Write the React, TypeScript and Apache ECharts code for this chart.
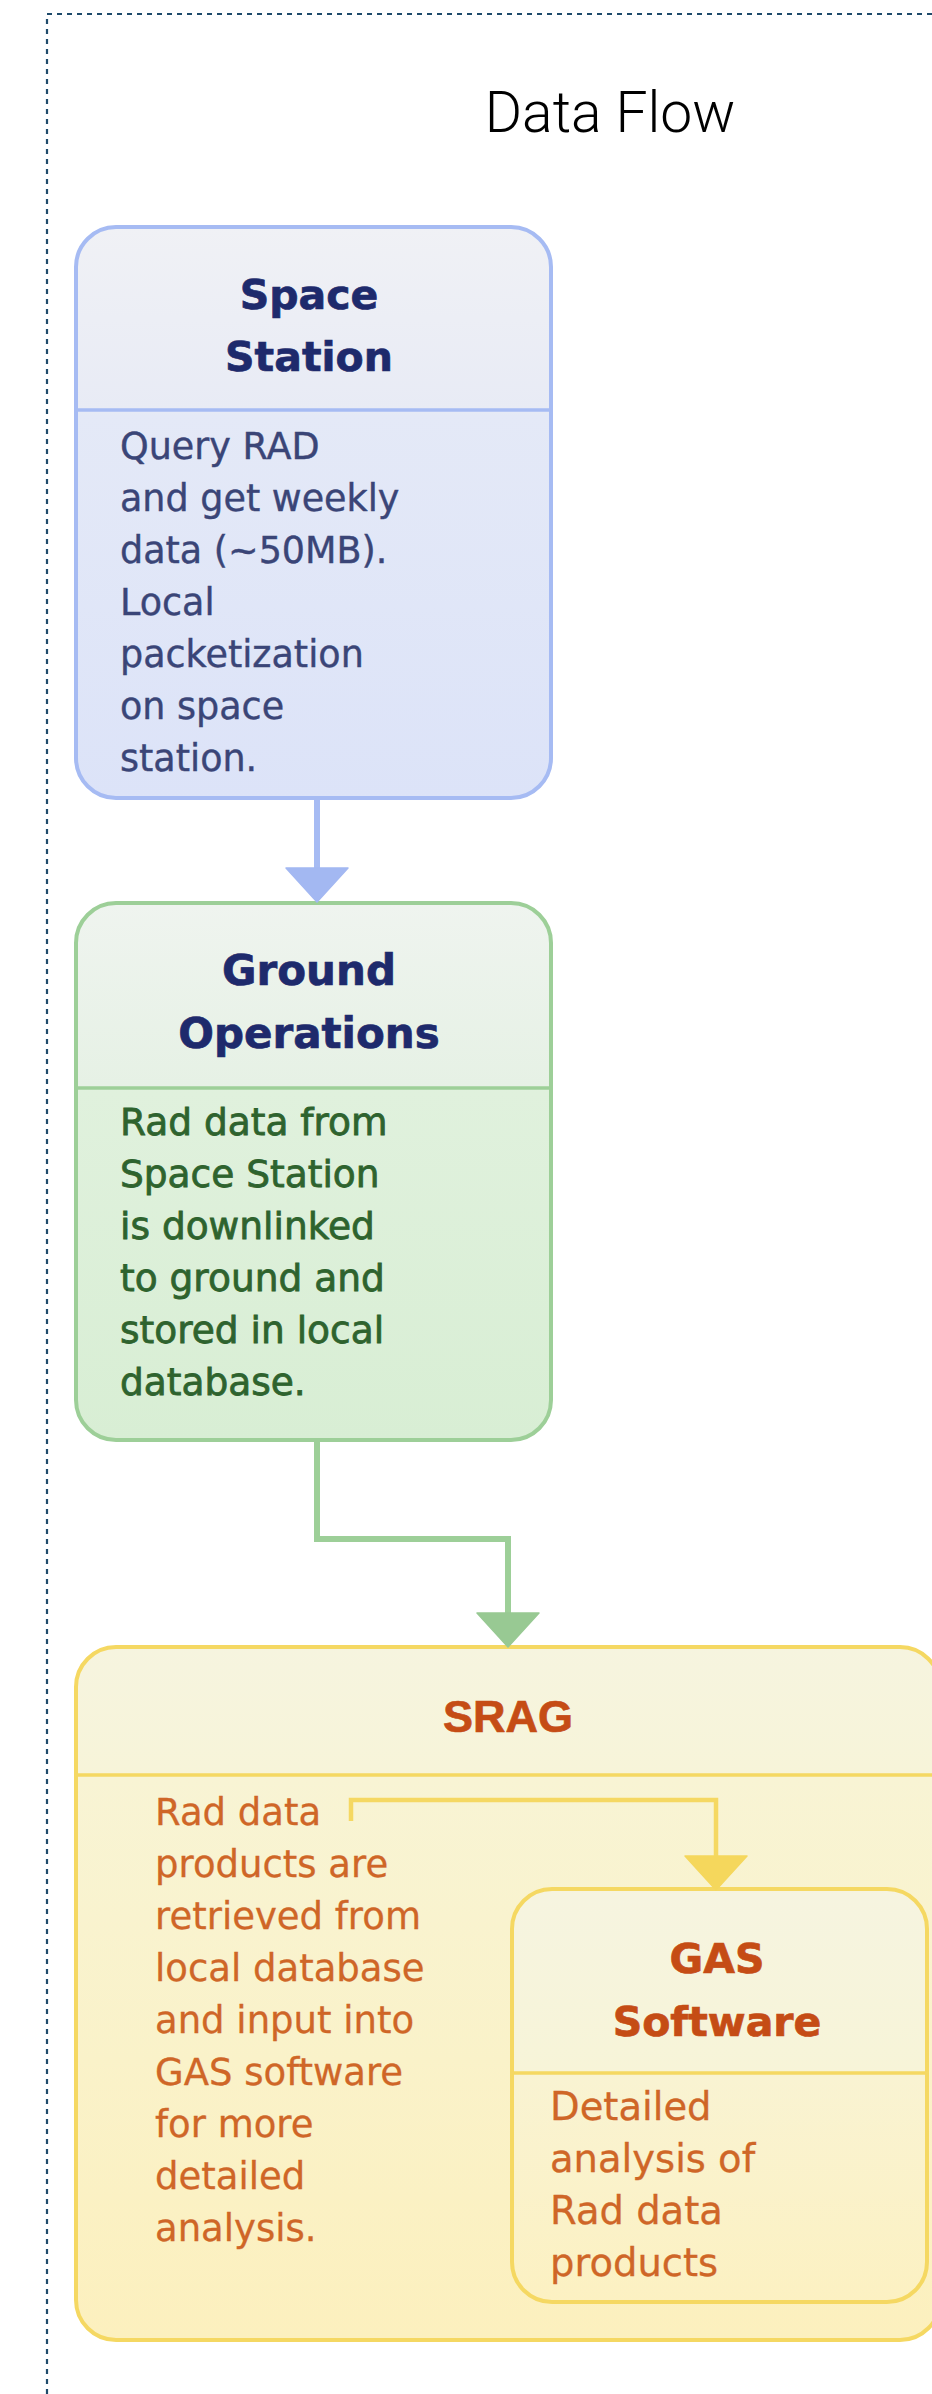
import React, { useEffect, useRef } from "react";
import * as echarts from "echarts";

const chartTitle = "Data Flow";
const spaceTitle = ["Space", "Station"];
const spaceBody = ["Query RAD", "and get weekly", "data (~50MB).", "Local", "packetization", "on space", "station."];
const groundTitle = ["Ground", "Operations"];
const groundBody = ["Rad data from", "Space Station", "is downlinked", "to ground and", "stored in local", "database."];
const sragTitle = ["SRAG"];
const sragBody = ["Rad data", "products are", "retrieved from", "local database", "and input into", "GAS software", "for more", "detailed", "analysis."];
const gasTitle = ["GAS", "Software"];
const gasBody = ["Detailed", "analysis of", "Rad data", "products"];

const W = 932;
const H = 2394;

function grad(stops: [number, string][]) {
  return {
    type: "linear", x: 0, y: 0, x2: 0, y2: 1, global: false,
    colorStops: stops.map(([offset, color]) => ({ offset, color })),
  };
}

function txt(text: string, x: number, y: number, o: any) {
  return {
    type: "text",
    x, y,
    z: 20,
    style: {
      text,
      fill: o.fill,
      stroke: o.sw ? o.fill : undefined,
      lineWidth: o.sw || 0,
      fontSize: o.size,
      fontFamily: o.family,
      fontWeight: o.weight || "normal",
      align: o.align || "left",
      textAlign: o.align || "left",
      verticalAlign: "middle",
      textVerticalAlign: "middle",
    },
  };
}

function box(b: any) {
  const els: any[] = [];
  els.push({
    type: "rect", z: 5,
    shape: { x: b.x, y: b.y, width: b.w, height: b.h, r: 40 },
    style: { fill: grad(b.stops), stroke: b.stroke, lineWidth: 4 },
  });
  els.push({
    type: "line", z: 6,
    shape: { x1: b.x, y1: b.div, x2: b.x + b.w, y2: b.div },
    style: { stroke: b.stroke, lineWidth: 3.5 },
  });
  b.titles.forEach((t: string, i: number) => {
    els.push(txt(t, b.tx, b.ty + i * b.tgap, { fill: b.tcolor, size: b.tsize, family: b.tfamily, weight: "bold", align: "center", sw: 0.7 }));
  });
  b.body.forEach((t: string, i: number) => {
    els.push(txt(t, b.bx, b.by + i * 52, { fill: b.bcolor, size: b.bsize, family: "DejaVu Sans", sw: b.bsw }));
  });
  return els;
}

function arrowHead(cx: number, top: number, color: string) {
  return {
    type: "polygon", z: 12,
    shape: { points: [[cx - 31, top], [cx + 31, top], [cx, top + 34]] },
    style: { fill: color, stroke: color, lineWidth: 1.5, lineJoin: "round" },
  };
}

export default function App() {
  const ref = useRef<HTMLDivElement>(null);
  useEffect(() => {
    if (!ref.current) return;
    const chart = echarts.init(ref.current, null, { renderer: "svg" });
    const blue = "#a6bbf3";
    const green = "#9dcf98";
    const yellow = "#f5d862";
    const elements: any[] = [
      {
        type: "rect", z: 1,
        shape: { x: 47, y: 14, width: 1000, height: 2500 },
        style: { fill: "none", stroke: "#1f4b6b", lineWidth: 2.2, lineDash: [5, 5] },
      },
      txt(chartTitle, 610, 112, { fill: "#000", size: 57, family: "Roboto", weight: 300, align: "center" }),
      ...box({
        x: 76, y: 227, w: 475, h: 571, div: 410, stroke: blue,
        stops: [[0, "#f0f1f5"], [0.32, "#e8ebf5"], [0.33, "#e4e9f7"], [1, "#dce3f8"]],
        titles: spaceTitle, tx: 309, ty: 295, tgap: 62, tcolor: "#1e2a6c", tsize: 41, tfamily: "DejaVu Sans",
        body: spaceBody, bx: 120, by: 446, bcolor: "#3a4577", bsize: 36.5, bsw: 0.4,
      }),
      ...box({
        x: 76, y: 903, w: 475, h: 537, div: 1088, stroke: green,
        stops: [[0, "#eff4ef"], [0.34, "#e6f1e5"], [0.35, "#e0f1dd"], [1, "#d8eed4"]],
        titles: groundTitle, tx: 309, ty: 970, tgap: 63, tcolor: "#1e2a6c", tsize: 42, tfamily: "DejaVu Sans",
        body: groundBody, bx: 120, by: 1122, bcolor: "#2e632e", bsize: 37.5, bsw: 0.8,
      }),
      ...box({
        x: 76, y: 1647, w: 864, h: 693, div: 1775, stroke: yellow,
        stops: [[0, "#f6f4df"], [0.18, "#f7f4d9"], [0.19, "#f8f4d4"], [1, "#fcf0be"]],
        titles: sragTitle, tx: 508, ty: 1716, tgap: 0, tcolor: "#c54c15", tsize: 45, tfamily: "Liberation Sans",
        body: sragBody, bx: 155, by: 1812, bcolor: "#cf6627", bsize: 37, bsw: 0.3,
      }),
      ...box({
        x: 512, y: 1889, w: 415, h: 413, div: 2073, stroke: yellow,
        stops: [[0, "#f6f4e0"], [0.44, "#f7f4d8"], [0.45, "#f9f3d2"], [1, "#fcf1c2"]],
        titles: gasTitle, tx: 717, ty: 1959, tgap: 63, tcolor: "#c54c15", tsize: 41, tfamily: "DejaVu Sans",
        body: gasBody, bx: 550, by: 2106, bcolor: "#cf6627", bsize: 38.5, bsw: 0.3,
      }),
      {
        type: "line", z: 10,
        shape: { x1: 317, y1: 800, x2: 317, y2: 870 },
        style: { stroke: blue, lineWidth: 6 },
      },
      arrowHead(317, 868, "#a3b8f2"),
      {
        type: "polyline", z: 10,
        shape: { points: [[317, 1442], [317, 1539], [508, 1539], [508, 1615]] },
        style: { stroke: green, lineWidth: 6, fill: "none" },
      },
      arrowHead(508, 1613, "#98c993"),
      {
        type: "polyline", z: 10,
        shape: { points: [[351, 1821], [351, 1800], [716, 1800], [716, 1859]] },
        style: { stroke: yellow, lineWidth: 4.5, fill: "none" },
      },
      arrowHead(716, 1856, "#f5d75c"),
    ];
    chart.setOption({
      animation: false,
      backgroundColor: "#ffffff",
      graphic: { elements },
    });
    return () => chart.dispose();
  }, []);
  return <div ref={ref} style={{ position: "absolute", left: 0, top: 0, width: W, height: H }} />;
}
